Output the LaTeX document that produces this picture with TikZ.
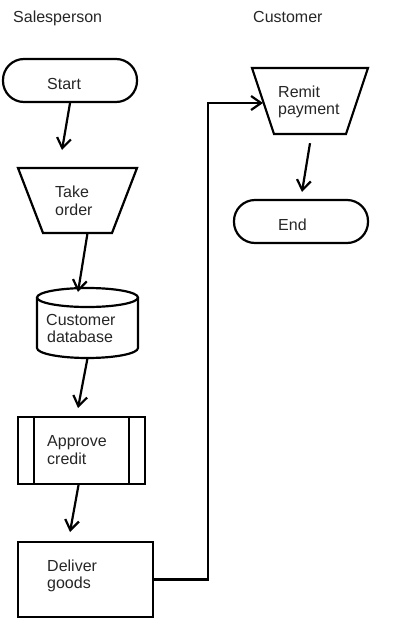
\documentclass[tikz,border=0pt]{standalone}
\usepackage{fontspec}
\setmainfont{Liberation Sans}
\usetikzlibrary{arrows.meta}
\begin{document}
\begin{tikzpicture}[x=1pt,y=-1pt,
  shp/.style={draw=black,line width=2.2pt,inner sep=0pt},
  outl/.style={line width=2.2pt,line join=miter},
  box/.style={draw=none,inner sep=0pt,rectangle},
  txt/.style={anchor=base west,inner sep=0pt,text=black!85,font=\fontsize{16}{18}\selectfont},
  term/.style={shp,rectangle,rounded corners=21pt,minimum width=134pt,minimum height=43pt},
  conn/.style={line width=2.2pt,-{Straight Barb[length=10pt,width=14pt,line width=2.2pt]}}
]
\useasboundingbox (0,0) rectangle (418,627);

% lane titles
\node[txt] (ts) at (13,22) {Salesperson};
\node[txt] (tc) at (253,22) {Customer};

% shapes
\node[term] (start) at (70,80.5) {};

\node[box,minimum width=119pt,minimum height=65pt] (take) at (77.5,200.5) {};
\draw[outl] (18,168) -- (137,168) -- (112,233) -- (43,233) -- cycle;

\node[box,minimum width=101pt,minimum height=70pt] (db) at (87.5,323) {};
\draw[line width=2.2pt] (87.5,297.5) ellipse[x radius=50.5pt,y radius=9.5pt];
\draw[line width=2.2pt] (37,297.5) -- (37,348) arc[start angle=180,end angle=360,x radius=50.5pt,y radius=10pt] -- (138,297.5);

\node[shp,rectangle,minimum width=127pt,minimum height=67pt] (approve) at (81.5,450.5) {};
\draw[line width=2.2pt] ([xshift=17pt]approve.north west) -- ([xshift=17pt]approve.south west);
\draw[line width=2.2pt] ([xshift=-17pt]approve.north east) -- ([xshift=-17pt]approve.south east);

\node[shp,rectangle,minimum width=135pt,minimum height=75pt] (deliver) at (85.5,579.5) {};

\node[box,minimum width=116pt,minimum height=66pt] (remit) at (310,101) {};
\draw[outl] (252,68) -- (368,68) -- (346,134) -- (274,134) -- cycle;

\node[term] (end) at (301,221.5) {};

% texts
\node[txt] (l1) at (47,89) {Start};
\node[txt] (l2a) at (55,197) {Take};
\node[txt] (l2b) at (55,215) {order};
\node[txt] (l3a) at (46,325) {Customer};
\node[txt] (l3b) at (47,342) {database};
\node[txt] (l4a) at (47,446) {Approve};
\node[txt] (l4b) at (47,464) {credit};
\node[txt] (l5a) at (47,571) {Deliver};
\node[txt] (l5b) at (47,588) {goods};
\node[txt] (l6a) at (278,97) {Remit};
\node[txt] (l6b) at (278,114) {payment};
\node[txt] (l7) at (278,230) {End};

% connector ends
\coordinate (e1) at (62,150);
\coordinate (e2) at (78,292);
\coordinate (e3) at (78,408);
\coordinate (e4) at (70,532);
\coordinate (e5) at (302,192);
\coordinate (bend) at (208,103);
\coordinate (rin) at (263,103);

\draw[conn] (start.south) -- (e1);
\draw[conn] ([xshift=10pt]take.south) -- (e2);
\draw[conn] (db.south) -- (e3);
\draw[conn] ([xshift=-3pt]approve.south) -- (e4);
\draw[conn] ([yshift=-9pt]remit.south) -- (e5);
\draw[conn] (deliver.east) -| (bend) -- (rin);
\end{tikzpicture}
\end{document}
